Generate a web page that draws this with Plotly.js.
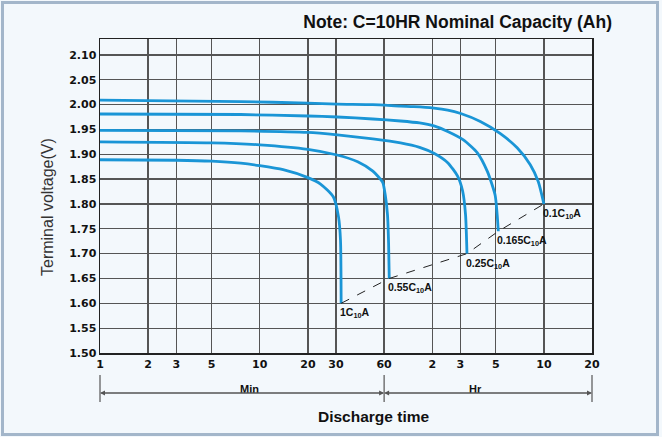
<!DOCTYPE html>
<html>
<head>
<meta charset="utf-8">
<script src="https://cdn.plot.ly/plotly-3.0.1.min.js"></script>
<style>
  html, body { margin: 0; padding: 0; background: #F3F8FC; }
  #wrap { position: relative; width: 662px; height: 437px; }
  #chart { width: 662px; height: 437px; }
  #frame { position: absolute; left: 1px; top: 1px; width: 652px; height: 429px;
           border: 3px solid #A3B6CA; pointer-events: none; }
</style>
</head>
<body>
<div id="wrap"><div id="chart"></div><div id="frame"></div></div>
<script>
// ---- data (time in minutes, voltage in V) ----
const tickVals = [1, 2, 3, 5, 10, 20, 30, 60, 120, 180, 300, 600, 1200];
const tickText = ['1', '2', '3', '5', '10', '20', '30', '60', '2', '3', '5', '10', '20'];
const yTicks = [1.50, 1.55, 1.60, 1.65, 1.70, 1.75, 1.80, 1.85, 1.90, 1.95, 2.00, 2.05, 2.10];

const c01Time = [1, 7.6, 20, 30.6, 51, 76, 92, 123, 150, 181, 240, 319, 408, 493, 553, 600];
const c01Volt = [2.009, 2.006, 2.003, 2.001, 2.000, 1.997, 1.996, 1.993, 1.989, 1.982, 1.966, 1.942, 1.913, 1.879, 1.845, 1.80];

const c0165Time = [1, 7.6, 20, 30.6, 51, 76, 100, 123, 150, 188, 230, 266, 297, 306, 311];
const c0165Volt = [1.981, 1.980, 1.977, 1.975, 1.971, 1.967, 1.963, 1.957, 1.946, 1.929, 1.903, 1.865, 1.818, 1.778, 1.745];

const c025Time = [1, 7.6, 20, 30.6, 51, 76, 100, 123, 150, 173, 186, 194, 198];
const c025Volt = [1.948, 1.947, 1.944, 1.939, 1.931, 1.923, 1.914, 1.902, 1.883, 1.856, 1.826, 1.778, 1.70];

const c055Time = [1, 5, 10, 20, 30, 41, 51, 58.7, 61, 63, 64, 64.6];
const c055Volt = [1.925, 1.923, 1.919, 1.910, 1.899, 1.885, 1.866, 1.844, 1.818, 1.778, 1.72, 1.65];

const c1Time = [1, 3, 5, 7.6, 10, 14, 20, 24, 28.9, 31.1, 32, 32.3];
const c1Volt = [1.889, 1.888, 1.886, 1.882, 1.877, 1.869, 1.853, 1.840, 1.814, 1.774, 1.727, 1.60];

const endTime = [32.3, 64.6, 198, 311, 600];
const endVolt = [1.60, 1.65, 1.70, 1.745, 1.80];
const endLabels = ['1C<sub>10</sub>A', '0.55C<sub>10</sub>A', '0.25C<sub>10</sub>A', '0.165C<sub>10</sub>A', '0.1C<sub>10</sub>A'];

const curveTimes = [c01Time, c0165Time, c025Time, c055Time, c1Time];
const curveVolts = [c01Volt, c0165Volt, c025Volt, c055Volt, c1Volt];
const curveNames = ['0.1C10A', '0.165C10A', '0.25C10A', '0.55C10A', '1C10A'];

// ---- drawing ----
const blue = '#1A95D6';
const gridCol = '#555555';
const font = 'Liberation Sans, Arial, sans-serif';
const tickFont = 'DejaVu Sans, Liberation Sans, Arial, sans-serif';

const traces = curveTimes.map((t, i) => ({
  x: t, y: curveVolts[i], name: curveNames[i], type: 'scatter', mode: 'lines',
  line: {color: blue, width: 2.8, shape: 'spline', smoothing: 0.6},
  hoverinfo: 'x+y'
}));
traces.push({
  x: endTime, y: endVolt, type: 'scatter', mode: 'lines', name: 'end',
  line: {color: '#222', width: 1, dash: 'dash'}
});

const xMaxLog = Math.log10(tickVals[tickVals.length - 1]);
const plotH = 437 - 39 - 84;
const py = px => (353 - px) / plotH;     // pixel row -> paper y
const pxFromMin = m => Math.log10(m) / xMaxLog; // minutes -> paper x

const annotations = endTime.map((t, i) => ({
  x: Math.log10(t), y: endVolt[i], xref: 'x', yref: 'y',
  text: endLabels[i], showarrow: false, xanchor: 'left', yanchor: 'top',
  xshift: -3, yshift: -1,
  font: {family: font, size: 10.5, color: '#111', weight: 'bold'}
}));

// y title
annotations.push({
  xref: 'paper', yref: 'paper', x: -53 / 492, y: py(207), textangle: -90,
  text: 'Terminal voltage(V)', showarrow: false, xanchor: 'center', yanchor: 'middle',
  font: {family: font, size: 16, color: '#333'}
});
// x title
annotations.push({
  xref: 'paper', yref: 'paper', x: (374 - 100) / 492, y: py(416),
  text: 'Discharge time', showarrow: false, xanchor: 'center', yanchor: 'middle',
  font: {family: font, size: 15.5, color: '#111', weight: 'bold'}
});
// Min / Hr labels
annotations.push({
  xref: 'paper', yref: 'paper', x: (pxFromMin(1) + pxFromMin(60)) / 2 + 0.015, y: py(389),
  text: 'Min', showarrow: false, xanchor: 'center', yanchor: 'middle',
  font: {family: font, size: 11, color: '#111', weight: 'bold'}
});
annotations.push({
  xref: 'paper', yref: 'paper', x: (pxFromMin(60) + pxFromMin(1200)) / 2 - 0.025, y: py(389),
  text: 'Hr', showarrow: false, xanchor: 'center', yanchor: 'middle',
  font: {family: font, size: 11, color: '#111', weight: 'bold'}
});
// arrows of the dimension line
const arrowY = py(393);
const segs = [[1, 60], [60, 1200]];
segs.forEach(([a, b]) => {
  const la = pxFromMin(a), lb = pxFromMin(b);
  const lenPx = (lb - la) * 492;
  annotations.push({xref: 'paper', yref: 'paper', x: la, y: arrowY, ax: lenPx, ay: 0,
    showarrow: true, arrowhead: 2, arrowsize: 1, arrowwidth: 1, arrowcolor: '#555', text: '', standoff: 0});
  annotations.push({xref: 'paper', yref: 'paper', x: lb, y: arrowY, ax: -lenPx, ay: 0,
    showarrow: true, arrowhead: 2, arrowsize: 1, arrowwidth: 1, arrowcolor: '#555', text: '', standoff: 0});
});

const shapes = [1, 60, 1200].map(m => ({
  type: 'line', xref: 'paper', yref: 'paper',
  x0: pxFromMin(m), x1: pxFromMin(m), y0: py(375), y1: py(402),
  line: {color: '#555', width: 1.2}
}));

const layout = {
  width: 662, height: 437,
  margin: {l: 100, r: 70, t: 39, b: 84},
  paper_bgcolor: '#F3F8FC', plot_bgcolor: '#F3F8FC',
  showlegend: false,
  title: {
    text: 'Note: C=10HR Nominal Capacity (Ah)',
    x: 612 / 662, xanchor: 'right', xref: 'container',
    y: 1 - 22 / 437, yanchor: 'middle', yref: 'container',
    font: {family: font, size: 17.5, color: '#111', weight: 'bold'}
  },
  xaxis: {
    type: 'log', range: [0, xMaxLog],
    tickmode: 'array', tickvals: tickVals, ticktext: tickText,
    showgrid: true, gridcolor: gridCol, gridwidth: 1.3,
    showline: true, linecolor: '#222', linewidth: 1.5, mirror: true,
    ticks: '', zeroline: false,
    tickfont: {family: tickFont, size: 11, color: '#111', weight: 'bold'}
  },
  yaxis: {
    range: [1.50, 2.132],
    tickmode: 'array', tickvals: yTicks, ticktext: yTicks.map(v => v.toFixed(2)),
    showgrid: true, gridcolor: gridCol, gridwidth: 1.3,
    showline: true, linecolor: '#222', linewidth: 1.5, mirror: true,
    ticks: '', zeroline: false,
    tickfont: {family: tickFont, size: 11, color: '#111', weight: 'bold'}
  },
  annotations: annotations,
  shapes: shapes
};

Plotly.newPlot('chart', traces, layout, {displayModeBar: false, staticPlot: true});
</script>
</body>
</html>
